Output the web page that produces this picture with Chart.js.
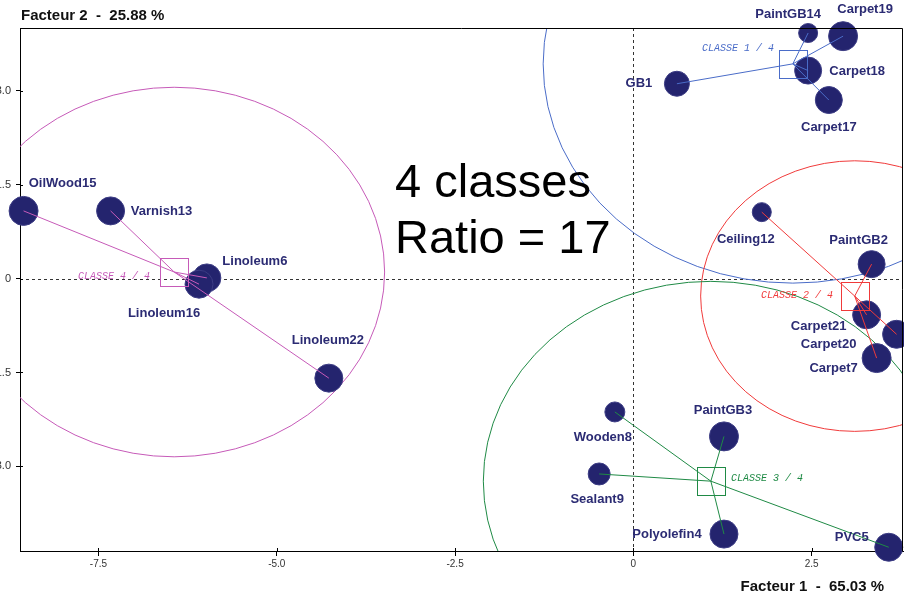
<!DOCTYPE html>
<html>
<head>
<meta charset="utf-8">
<script src="https://cdn.jsdelivr.net/npm/chart.js@4/dist/chart.umd.min.js"></script>
<style>
  html, body { margin: 0; padding: 0; background: #fff; overflow: hidden; }
  #wrap { width: 904px; height: 596px; }
  #afc { display: block; }
</style>
</head>
<body>
<div id="wrap"><canvas id="afc" width="904" height="596"></canvas></div>
<script>
// individuals
var names   = ['GB1', 'PaintGB14', 'Carpet19', 'Carpet18', 'Carpet17',
               'Ceiling12', 'PaintGB2', 'Carpet21', 'Carpet20', 'Carpet7',
               'Wooden8', 'PaintGB3', 'Sealant9', 'Polyolefin4', 'PVC5',
               'OilWood15', 'Varnish13', 'Linoleum6', 'Linoleum16', 'Linoleum22'];
var factor1 = [0.61, 2.45, 2.94, 2.45, 2.74,
               1.80, 3.34, 3.27, 3.69, 3.41,
               -0.26, 1.27, -0.48, 1.27, 3.58,
               -8.55, -7.33, -5.98, -6.09, -4.27];
var factor2 = [3.11, 3.92, 3.87, 3.32, 2.85,
               1.06, 0.23, -0.58, -0.89, -1.27,
               -2.13, -2.52, -3.12, -4.08, -4.29,
               1.08, 1.08, 0.01, -0.09, -1.59];
var classOf = [0, 0, 0, 0, 0,
               1, 1, 1, 1, 1,
               2, 2, 2, 2, 2,
               3, 3, 3, 3, 3];
// bubble size (px)
var bubble  = [12.5, 9.5, 14.5, 13.5, 13.5,
               9.5, 13.5, 14, 14, 14.5,
               10, 14.5, 11, 14, 14,
               14.5, 14, 14, 14, 14];
// label offset from the bubble centre (px)
var labelOffset = [[-38, 0], [-20, -19], [22, -27], [49, 1], [0, 27],
                   [-16, 27], [-13, -24], [-48, 12], [-68, 10], [-43, 10],
                   [-12, 25], [-1, -26], [-2, 25], [-57, 0], [-37, -10],
                   [39, -27], [51, 1], [48, -16], [-35, 29], [-1, -38]];

// classes
var classNames  = ['CLASSE 1 / 4', 'CLASSE 2 / 4', 'CLASSE 3 / 4', 'CLASSE 4 / 4'];
var classX      = [2.235, 3.103, 1.086, -6.438];
var classY      = [3.427, -0.280, -3.235, 0.104];
var classRadius = [3.5, 2.16, 3.19, 2.95];
var classColors = ['#4a6cc8', '#f03a3a', '#1f8a45', '#c65ab8'];
var classLabelPos = [[-19, -16, 'right'], [-22, -1, 'right'], [20, -3, 'left'], [-24, 4, 'right']];

var xTicks = [-7.5, -5, -2.5, 0, 2.5];
var xTickLabels = ['-7.5', '-5.0', '-2.5', '0', '2.5'];
var yTicks = [3, 1.5, 0, -1.5, -3];
var yTickLabels = ['3.0', '1.5', '0', '-1.5', '-3.0'];

var SANS = '"Liberation Sans", Arial, sans-serif';

var points = [];
for (var i = 0; i < names.length; i++) {
  points.push({x: factor1[i], y: factor2[i]});
}

var overlay = {
  id: 'overlay',
  beforeDatasetsDraw: function (chart) {
    var ctx = chart.ctx, a = chart.chartArea;
    var sx = chart.scales.x, sy = chart.scales.y;
    ctx.save();
    // dotted origin lines
    var x0 = Math.round(sx.getPixelForValue(0)) + 0.5;
    var y0 = Math.round(sy.getPixelForValue(0)) + 0.5;
    ctx.strokeStyle = '#333';
    ctx.lineWidth = 1;
    ctx.setLineDash([3, 3]);
    ctx.beginPath();
    ctx.moveTo(x0, a.top); ctx.lineTo(x0, a.bottom);
    ctx.moveTo(a.left, y0); ctx.lineTo(a.right, y0);
    ctx.stroke();
    ctx.setLineDash([]);
    // small inner part of the tick marks
    ctx.strokeStyle = '#000';
    ctx.beginPath();
    xTicks.forEach(function (v) {
      var p = Math.round(sx.getPixelForValue(v)) + 0.5;
      ctx.moveTo(p, a.bottom); ctx.lineTo(p, a.bottom - 3);
    });
    yTicks.forEach(function (v) {
      var p = Math.round(sy.getPixelForValue(v)) + 0.5;
      ctx.moveTo(a.left, p); ctx.lineTo(a.left + 3, p);
    });
    ctx.stroke();
    // class circles
    ctx.beginPath();
    ctx.rect(a.left, a.top, a.right - a.left, a.bottom - a.top);
    ctx.clip();
    var ux = sx.getPixelForValue(1) - sx.getPixelForValue(0);
    var uy = sy.getPixelForValue(0) - sy.getPixelForValue(1);
    for (var c = 0; c < classNames.length; c++) {
      ctx.strokeStyle = classColors[c];
      ctx.beginPath();
      ctx.ellipse(sx.getPixelForValue(classX[c]), sy.getPixelForValue(classY[c]),
                  classRadius[c] * ux, classRadius[c] * uy, 0, 0, Math.PI * 2);
      ctx.stroke();
    }
    ctx.restore();
  },
  afterDatasetsDraw: function (chart) {
    var ctx = chart.ctx, a = chart.chartArea;
    var sx = chart.scales.x, sy = chart.scales.y;
    ctx.save();
    ctx.lineWidth = 1;
    // links to class centre
    for (var i = 0; i < names.length; i++) {
      var c = classOf[i];
      ctx.strokeStyle = classColors[c];
      ctx.beginPath();
      ctx.moveTo(sx.getPixelForValue(factor1[i]), sy.getPixelForValue(factor2[i]));
      ctx.lineTo(sx.getPixelForValue(classX[c]), sy.getPixelForValue(classY[c]));
      ctx.stroke();
    }
    // centre squares and class names
    ctx.font = 'italic 10px "Liberation Mono", "Courier New", monospace';
    ctx.textBaseline = 'middle';
    for (var c = 0; c < classNames.length; c++) {
      var cx = Math.round(sx.getPixelForValue(classX[c]));
      var cy = Math.round(sy.getPixelForValue(classY[c]));
      ctx.strokeStyle = classColors[c];
      ctx.strokeRect(cx - 14 + 0.5, cy - 14 + 0.5, 28, 28);
      ctx.fillStyle = classColors[c];
      ctx.textAlign = classLabelPos[c][2];
      ctx.fillText(classNames[c], cx + classLabelPos[c][0], cy + classLabelPos[c][1]);
    }
    // individual labels
    ctx.font = 'bold 13px ' + SANS;
    ctx.fillStyle = '#2b2b73';
    ctx.textAlign = 'center';
    for (var i = 0; i < names.length; i++) {
      ctx.fillText(names[i],
        sx.getPixelForValue(factor1[i]) + labelOffset[i][0],
        sy.getPixelForValue(factor2[i]) + labelOffset[i][1]);
    }
    // big note
    ctx.fillStyle = '#000';
    ctx.textAlign = 'left';
    ctx.textBaseline = 'alphabetic';
    ctx.font = '47px ' + SANS;
    ctx.fillText('4 classes', 395, 197);
    ctx.fillText('Ratio = 17', 395, 253);
    // axis titles
    ctx.font = 'bold 15px ' + SANS;
    ctx.fillStyle = '#111';
    ctx.fillText('Facteur 2  -  25.88 %', 21, 20);
    ctx.textAlign = 'right';
    ctx.fillText('Facteur 1  -  65.03 %', 884, 591);
    // frame top / right
    ctx.strokeStyle = '#000';
    ctx.beginPath();
    ctx.moveTo(a.left, a.top + 0.5);
    ctx.lineTo(a.right - 0.5, a.top + 0.5);
    ctx.lineTo(a.right - 0.5, a.bottom);
    ctx.stroke();
    ctx.restore();
  }
};

var ctx = document.getElementById('afc').getContext('2d');
var afc = new Chart(ctx, {
  type: 'scatter',
  data: {
    datasets: [{
      data: points,
      pointRadius: bubble,
      backgroundColor: '#24246e',
      borderColor: '#3c3c84',
      borderWidth: 1,
      clip: false
    }]
  },
  options: {
    responsive: false,
    animation: false,
    events: [],
    layout: { autoPadding: false, padding: { top: 28, right: 1, left: 0, bottom: 0 } },
    plugins: { legend: { display: false }, tooltip: { enabled: false } },
    scales: {
      x: {
        type: 'linear',
        min: -8.6,
        max: 3.78,
        afterBuildTicks: function (s) { s.ticks = xTicks.map(function (v) { return {value: v}; }); },
        afterFit: function (s) {
          s.height = 45;
          s.paddingLeft = 0; s.paddingRight = 0;
        },
        ticks: {
          autoSkip: false, maxRotation: 0, padding: 2, color: '#333',
          font: { family: '"Liberation Sans Narrow", "Liberation Sans", Arial', size: 10 },
          callback: function (v, idx) { return xTickLabels[idx]; }
        },
        grid: { drawOnChartArea: false, tickLength: 5, color: '#000' },
        border: { color: '#000' }
      },
      y: {
        type: 'linear',
        min: -4.35,
        max: 4.0,
        afterBuildTicks: function (s) { s.ticks = yTicks.map(function (v) { return {value: v}; }); },
        afterFit: function (s) {
          s.width = 20;
          s.paddingTop = 0; s.paddingBottom = 0;
        },
        ticks: {
          autoSkip: false, padding: 5, color: '#333',
          font: { family: '"Liberation Sans Narrow", "Liberation Sans", Arial', size: 11 },
          callback: function (v, idx) { return yTickLabels[idx]; }
        },
        grid: { drawOnChartArea: false, tickLength: 4, color: '#000' },
        border: { color: '#000' }
      }
    }
  },
  plugins: [overlay]
});
</script>
</body>
</html>
